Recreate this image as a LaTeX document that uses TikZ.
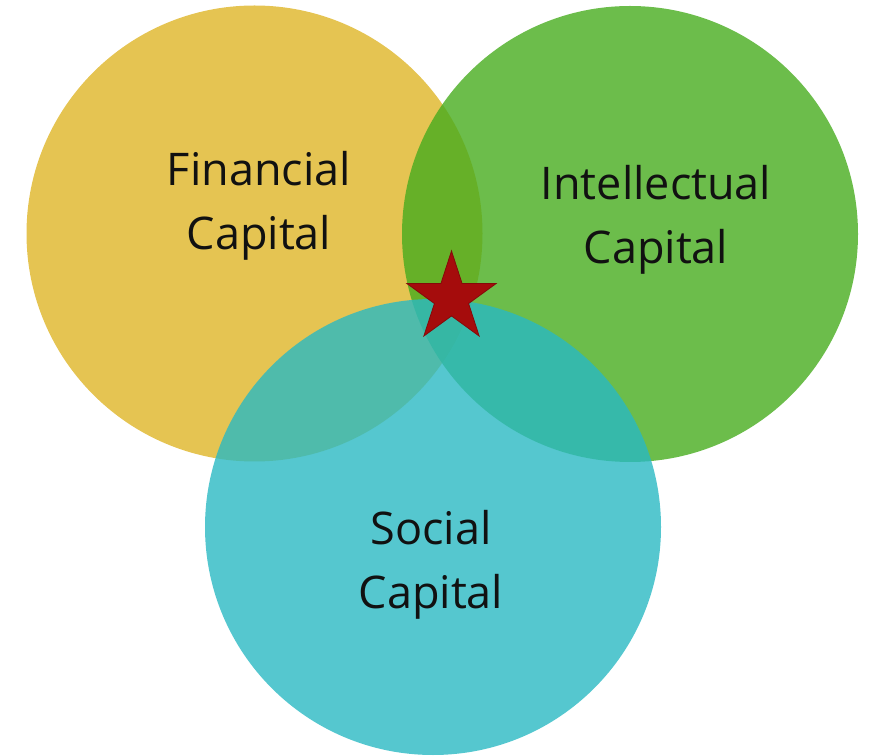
\documentclass[tikz,border=0pt]{standalone}
\usepackage{fontspec}
\setmainfont{Open Sans}
\usetikzlibrary{shapes.geometric}
\definecolor{finY}{RGB}{222,181,39}
\definecolor{intG}{RGB}{71,172,30}
\definecolor{socT}{RGB}{42,185,195}
\definecolor{starR}{RGB}{165,12,12}
\definecolor{txt}{RGB}{17,17,17}
\begin{document}
\begin{tikzpicture}[x=1pt,y=1pt,
  capcircle/.style={circle, minimum size=456pt, inner sep=0pt, fill opacity=0.8, draw=none},
  caplabel/.style={anchor=base, align=center, text=txt, inner sep=0pt,
     font=\fontsize{45}{64}\selectfont},
  bigstar/.style={star, star points=5, star point ratio=2.618, minimum size=94pt,
     inner sep=0pt, fill=starR, draw=starR!80!black, line width=0.8pt}]
\useasboundingbox (0,0) rectangle (874,755);
\node[capcircle, fill=finY] (fin) at (254.5,521.5) {};
\node[capcircle, fill=intG] (int) at (630,521) {};
\node[capcircle, fill=socT] (soc) at (433,228) {};
\node[bigstar] (star) at (451.5,457) {};
\node[caplabel] (finlbl) at (259,505) {Financial\\Capital};
\node[caplabel] (intlbl) at (656,491) {Intellectual\\Capital};
\node[caplabel] (soclbl) at (431,147) {Social\\Capital};
\end{tikzpicture}
\end{document}
